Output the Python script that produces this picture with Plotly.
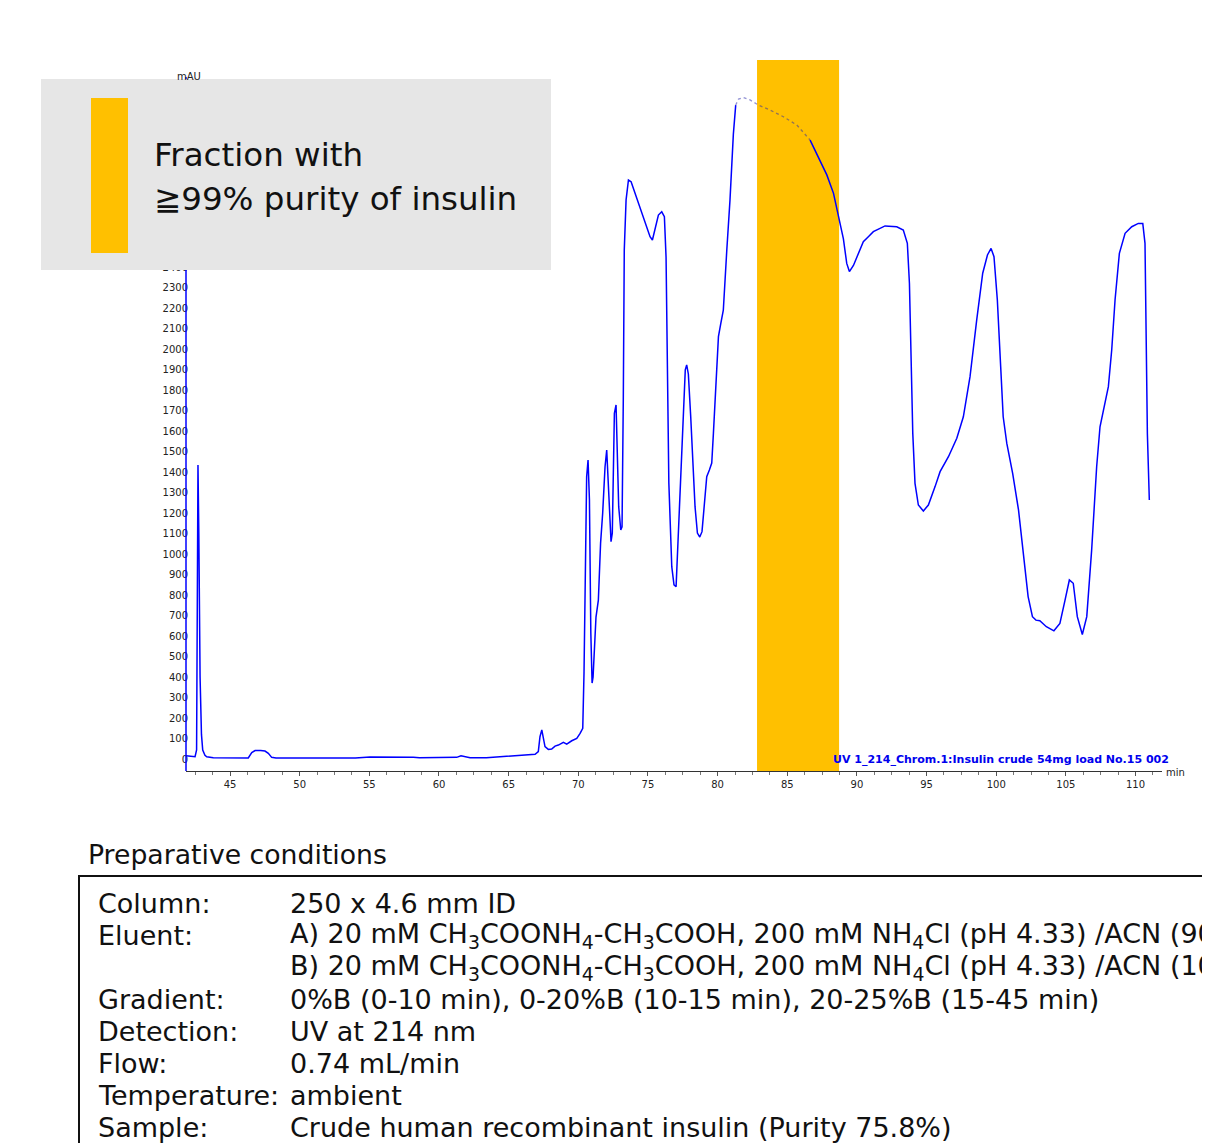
import plotly.graph_objects as go

# ---------------- data ----------------
time_min = [41.84, 42.2, 42.49, 42.6, 42.65, 42.7, 42.76, 42.85, 42.95, 43.04, 43.2, 43.33, 43.8,
            46.31, 46.56, 46.8, 47.2, 47.51, 47.75, 47.99, 48.3, 50, 52, 54, 55.05, 56, 57, 58.16,
            58.6, 59.84, 61.27, 61.58, 61.87, 62.23, 63.4, 64.38, 65.34, 66.3, 66.9, 67.13, 67.25,
            67.38, 67.49, 67.61, 67.85, 68.09, 68.33, 68.57, 68.93, 69.17, 69.53, 69.89, 70.13,
            70.32, 70.41, 70.6, 70.7, 70.8, 70.9, 70.99, 71.06, 71.27, 71.44, 71.6, 71.75, 71.92,
            72.04, 72.18, 72.35, 72.44, 72.59, 72.71, 72.8, 72.9, 73.05, 73.14, 73.23, 73.3, 73.43,
            73.6, 73.79, 74.08, 74.43, 74.79, 75.15, 75.32, 75.5, 75.75, 75.99, 76.18, 76.3, 76.4,
            76.5, 76.71, 76.87, 77.02, 77.18, 77.35, 77.54, 77.68, 77.78, 77.9, 78.07, 78.2, 78.38,
            78.55, 78.72, 78.88, 79.03, 79.22, 79.41, 79.58, 79.7, 79.82, 80.06, 80.23, 80.41,
            80.66, 80.89, 81.13, 81.3, 81.5, 81.85, 82.33, 82.93, 83.76, 84.72, 85.68, 86.64,
            87.23, 87.84, 88.32, 88.79, 89.03, 89.27, 89.46, 89.75, 90.1, 90.46, 90.82, 91.18,
            92.02, 92.86, 93.33, 93.62, 93.77, 93.89, 94.01, 94.17, 94.41, 94.77, 95.13, 95.61,
            95.97, 96.57, 97.17, 97.64, 98.12, 98.6, 99.03, 99.37, 99.63, 99.84, 100.08, 100.32,
            100.5, 100.76, 101.18, 101.6, 101.93, 102.29, 102.6, 102.85, 103.13, 103.6, 104.14,
            104.57, 104.94, 105.25, 105.53, 105.82, 106.18, 106.5, 106.85, 107.21, 107.45, 107.69,
            108.05, 108.29, 108.53, 108.84, 109.25, 109.73, 110.2, 110.52, 110.68, 110.76, 110.85,
            110.99]
absorbance_mAU = [16, 14, 11, 44, 600, 1435, 1100, 400, 120, 44, 18, 11, 6,
                  5, 31, 41, 42, 39, 28, 8, 5, 4, 4, 5, 10, 10, 9, 8,
                  6, 8, 8, 16, 10, 6, 6, 11, 15, 23, 23, 36, 109,
                  142, 109, 60, 47, 49, 63, 68, 81, 73, 89, 101, 125,
                  150, 420, 1378, 1460, 1265, 615, 371, 400, 693, 776, 1054, 1200, 1427,
                  1509, 1298, 1061, 1103, 1688, 1729, 1509, 1232, 1118, 1133, 1753, 2485, 2730,
                  2827, 2819, 2762, 2697, 2616, 2550, 2534, 2583, 2656, 2672, 2648, 2450, 1753,
                  1347, 939, 850, 841, 1103, 1427, 1753, 1900, 1924, 1880, 1671, 1509, 1232,
                  1103, 1084, 1110, 1232, 1378, 1411, 1445, 1591, 1753, 2062, 2127, 2192,
                  2485, 2730, 3050, 3193, 3222, 3230, 3218, 3193, 3169, 3136, 3096, 3022,
                  2941, 2852, 2762, 2615, 2540, 2420, 2380, 2410, 2469, 2526, 2550, 2575,
                  2603, 2599, 2583, 2518, 2323, 1916, 1590, 1346, 1240, 1211, 1240, 1330,
                  1403, 1476, 1566, 1671, 1867, 2144, 2372, 2461, 2493, 2453, 2241, 1916,
                  1671, 1541, 1395, 1216, 1004, 793, 695, 678, 675, 646, 626,
                  662, 776, 874, 858, 695, 608, 695, 1020, 1427, 1622, 1704,
                  1818, 1997, 2241, 2469, 2567, 2599, 2615, 2615, 2518, 2079, 1590,
                  1265]

fraction_start = 82.83
fraction_end = 88.72
faint_start = 81.3     # saturated detector region drawn faint
faint_end = 86.64

y_tick_values = list(range(0, 3301, 100))
x_tick_values = [45, 50, 55, 60, 65, 70, 75, 80, 85, 90, 95, 100, 105, 110]

legend_lines = ["Fraction with", "≧99% purity of insulin"]
trace_label = "UV 1_214_Chrom.1:Insulin crude 54mg load No.15 002"

cond_title = "Preparative conditions"
cond_labels = ["Column:", "Eluent:", "", "Gradient:", "Detection:", "Flow:", "Temperature:", "Sample:"]
cond_values = [
    "250 x 4.6 mm ID",
    "A) 20 mM CH<sub>3</sub>COONH<sub>4</sub>-CH<sub>3</sub>COOH, 200 mM NH<sub>4</sub>Cl (pH 4.33) /ACN (90/10)",
    "B) 20 mM CH<sub>3</sub>COONH<sub>4</sub>-CH<sub>3</sub>COOH, 200 mM NH<sub>4</sub>Cl (pH 4.33) /ACN (10/90)",
    "0%B (0-10 min), 0-20%B (10-15 min), 20-25%B (15-45 min)",
    "UV at 214 nm",
    "0.74 mL/min",
    "ambient",
    "Crude human recombinant insulin (Purity 75.8%)",
]

# ---------------- layout geometry ----------------
# page body margin shifts the figure by OFF pixels; positions below are screen pixels
OFF = 8
W, H = 1210 - OFF, 1143 - OFF
L, R, T, B = 186 - OFF, 1162 - OFF, 60 - OFF, 771 - OFF
PW, PH = R - L, B - T


def px(x):
    return (x - OFF - L) / PW


def py(y):
    return (B - (y - OFF)) / PH


FONT = "DejaVu Sans"
BLUE = "#0000ff"

# split the trace into solid / faint parts
i0 = next(i for i, t in enumerate(time_min) if t >= faint_start)
i1 = next(i for i, t in enumerate(time_min) if t >= faint_end)

fig = go.Figure()
fig.add_trace(go.Scatter(x=time_min[:i0 + 1], y=absorbance_mAU[:i0 + 1], mode="lines",
                         line=dict(color=BLUE, width=1.5), hoverinfo="skip"))
fig.add_trace(go.Scatter(x=time_min[i0:i1 + 1], y=absorbance_mAU[i0:i1 + 1], mode="lines",
                         line=dict(color="rgba(40,40,170,0.5)", width=1.3, dash="dot"),
                         hoverinfo="skip"))
fig.add_trace(go.Scatter(x=time_min[i1:], y=absorbance_mAU[i1:], mode="lines",
                         line=dict(color=BLUE, width=1.5), hoverinfo="skip"))

y_min = -(771 - 759) / 0.2048
y_max = (759 - 60) / 0.2048

shapes = [
    # fraction band
    dict(type="rect", xref="x", yref="paper", x0=fraction_start, x1=fraction_end, y0=0, y1=1,
         fillcolor="#ffc000", line=dict(width=0), layer="below"),
    # y axis line
    dict(type="line", xref="paper", yref="y", x0=0, x1=0, y0=y_min, y1=3330,
         line=dict(color=BLUE, width=1.5)),
    # grey legend box
    dict(type="rect", xref="paper", yref="paper", x0=px(41), x1=px(551), y0=py(270), y1=py(79),
         fillcolor="#e6e6e6", line=dict(width=0), layer="above"),
    dict(type="rect", xref="paper", yref="paper", x0=px(91), x1=px(128), y0=py(253), y1=py(98),
         fillcolor="#ffc000", line=dict(width=0), layer="above"),
    # conditions frame
    dict(type="rect", xref="paper", yref="paper", x0=px(79), x1=px(1260), y0=py(1180), y1=py(876),
         fillcolor="rgba(0,0,0,0)", line=dict(color="#111", width=2), layer="above"),
]

annotations = [
    dict(text=legend_lines[0], x=px(152), y=py(155), xanchor="left", yanchor="middle",
         font=dict(family=FONT, size=32.5, color="#111")),
    dict(text=legend_lines[1], x=px(152), y=py(199), xanchor="left", yanchor="middle",
         font=dict(family=FONT, size=32.5, color="#111")),
    dict(text="mAU", x=px(175), y=py(77), xanchor="left", yanchor="middle",
         font=dict(family=FONT, size=10, color="#222")),
    dict(text="min", x=px(1164), y=py(773), xanchor="left", yanchor="middle",
         font=dict(family=FONT, size=10, color="#222")),
    dict(text="<b>" + trace_label + "</b>", x=px(1171), y=py(759), xanchor="right",
         yanchor="middle", font=dict(family=FONT, size=11, color="#0000ee")),
    dict(text=cond_title, x=px(86), y=py(855), xanchor="left", yanchor="middle",
         font=dict(family=FONT, size=26.7, color="#111")),
]
for k, (lab, val) in enumerate(zip(cond_labels, cond_values)):
    yc = 903 + 32 * k
    if lab:
        annotations.append(dict(text=lab, x=px(96), y=py(yc), xanchor="left", yanchor="middle",
                                font=dict(family=FONT, size=27, color="#111")))
    annotations.append(dict(text=val, x=px(288), y=py(yc), xanchor="left", yanchor="middle",
                            font=dict(family=FONT, size=27, color="#111")))
for a in annotations:
    a.update(xref="paper", yref="paper", showarrow=False)

fig.update_layout(
    width=W, height=H,
    margin=dict(l=L, r=W - R, t=T, b=H - B, pad=0),
    paper_bgcolor="white", plot_bgcolor="white",
    showlegend=False,
    shapes=shapes, annotations=annotations,
    xaxis=dict(range=[41.84, 111.9], tickvals=x_tick_values, ticks="outside", ticklen=4,
               tickcolor="#555", showline=True, linecolor="#333", linewidth=1,
               showgrid=False, zeroline=False,
               minor=dict(dtick=1.25, tick0=0, ticks="outside", ticklen=3, tickcolor="#777"),
               tickfont=dict(family=FONT, size=10, color="#222")),
    yaxis=dict(range=[y_min, y_max], tickvals=y_tick_values, ticks="", showline=False,
               showgrid=False, zeroline=False, ticklabelstandoff=-3,
               tickfont=dict(family=FONT, size=10, color="#222")),
)

fig.write_html("out.html")
